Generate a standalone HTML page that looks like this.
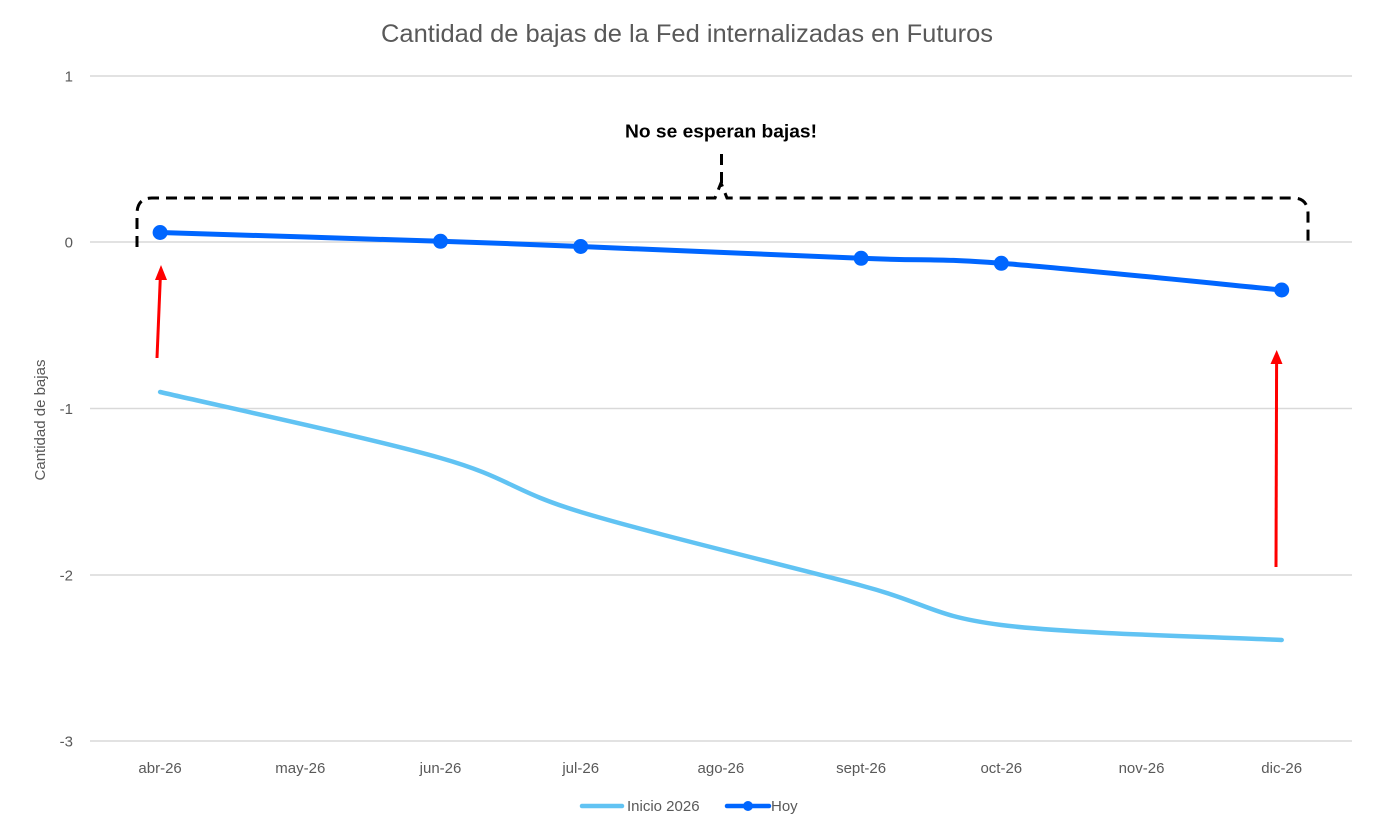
<!DOCTYPE html>
<html>
<head>
<meta charset="utf-8">
<style>
  html, body { margin: 0; padding: 0; background: #ffffff; }
  svg { display: block; }
  text { font-family: "Liberation Sans", "DejaVu Sans", sans-serif; }
</style>
</head>
<body>
<svg width="1375" height="837" viewBox="0 0 1375 837" xmlns="http://www.w3.org/2000/svg">
  <rect x="0" y="0" width="1375" height="837" fill="#ffffff"/>

  <!-- Title -->
  <text x="687" y="42" text-anchor="middle" font-size="25" fill="#595959" textLength="612" lengthAdjust="spacingAndGlyphs">Cantidad de bajas de la Fed internalizadas en Futuros</text>

  <!-- Gridlines -->
  <g stroke="#d9d9d9" stroke-width="1.5">
    <line x1="90" y1="76" x2="1352" y2="76"/>
    <line x1="90" y1="242" x2="1352" y2="242"/>
    <line x1="90" y1="408.5" x2="1352" y2="408.5"/>
    <line x1="90" y1="575" x2="1352" y2="575"/>
    <line x1="90" y1="741" x2="1352" y2="741"/>
  </g>

  <!-- Y tick labels -->
  <g font-size="15" fill="#595959" text-anchor="end">
    <text x="73" y="81.5">1</text>
    <text x="73" y="247.5">0</text>
    <text x="73" y="414">-1</text>
    <text x="73" y="580.5">-2</text>
    <text x="73" y="746.5">-3</text>
  </g>

  <!-- Y axis title -->
  <text transform="translate(45,420) rotate(-90)" text-anchor="middle" font-size="15" fill="#595959">Cantidad de bajas</text>

  <!-- X tick labels -->
  <g font-size="15" fill="#595959" text-anchor="middle">
    <text x="160.1" y="773">abr-26</text>
    <text x="300.3" y="773">may-26</text>
    <text x="440.5" y="773">jun-26</text>
    <text x="580.7" y="773">jul-26</text>
    <text x="720.9" y="773">ago-26</text>
    <text x="861.1" y="773">sept-26</text>
    <text x="1001.3" y="773">oct-26</text>
    <text x="1141.5" y="773">nov-26</text>
    <text x="1281.7" y="773">dic-26</text>
  </g>

  <!-- Inicio 2026 series -->
  <path d="M160.1,392 C206.8,403 370.4,438 440.5,458 C510.6,478 510.6,490.75 580.7,512 C650.8,533.25 791,566.67 861.1,585.5 C931.2,604.33 931.2,615.92 1001.3,625 C1071.4,634.08 1235,637.5 1281.7,640"
        fill="none" stroke="#61c3f3" stroke-width="4.5" stroke-linecap="round" stroke-linejoin="round"/>

  <!-- Hoy series -->
  <path d="M160.1,232.5 C206.8,233.97 370.4,239 440.5,241.3 C510.6,243.6 510.6,243.67 580.7,246.5 C650.8,249.33 791,255.5 861.1,258.3 C931.2,261.1 931.2,258.02 1001.3,263.3 C1071.4,268.58 1235,285.55 1281.7,290"
        fill="none" stroke="#0066ff" stroke-width="5" stroke-linecap="round" stroke-linejoin="round"/>
  <g fill="#0066ff">
    <circle cx="160.1" cy="232.5" r="7.5"/>
    <circle cx="440.5" cy="241.3" r="7.5"/>
    <circle cx="580.7" cy="246.5" r="7.5"/>
    <circle cx="861.1" cy="258.3" r="7.5"/>
    <circle cx="1001.3" cy="263.3" r="7.5"/>
    <circle cx="1281.7" cy="290" r="7.5"/>
  </g>

  <!-- Dashed bracket -->
  <path d="M137,247 V214 Q137,198 152,198 H715 L721,183 L727,198 H1293 Q1308,198 1308,214 V247 M721.5,183 V150"
        fill="none" stroke="#000000" stroke-width="3" stroke-dasharray="11 7"/>

  <!-- Annotation text -->
  <text x="721" y="137.5" text-anchor="middle" font-size="18" font-weight="bold" fill="#000000" textLength="192" lengthAdjust="spacingAndGlyphs">No se esperan bajas!</text>

  <!-- Red arrows -->
  <g stroke="#ff0000" stroke-width="3" fill="none">
    <line x1="157" y1="358" x2="160.3" y2="278"/>
    <line x1="1276" y1="567" x2="1276.6" y2="362"/>
  </g>
  <g fill="#ff0000">
    <polygon points="161,265 155,280 167,280"/>
    <polygon points="1276.7,350 1270.5,364 1282.5,364"/>
  </g>

  <!-- Legend -->
  <line x1="582" y1="806" x2="622" y2="806" stroke="#61c3f3" stroke-width="4.5" stroke-linecap="round"/>
  <text x="627" y="811" font-size="15" fill="#595959">Inicio 2026</text>
  <line x1="727" y1="806" x2="769" y2="806" stroke="#0066ff" stroke-width="4.5" stroke-linecap="round"/>
  <circle cx="748" cy="806" r="5" fill="#0066ff"/>
  <text x="771" y="811" font-size="15" fill="#595959">Hoy</text>
</svg>
</body>
</html>
